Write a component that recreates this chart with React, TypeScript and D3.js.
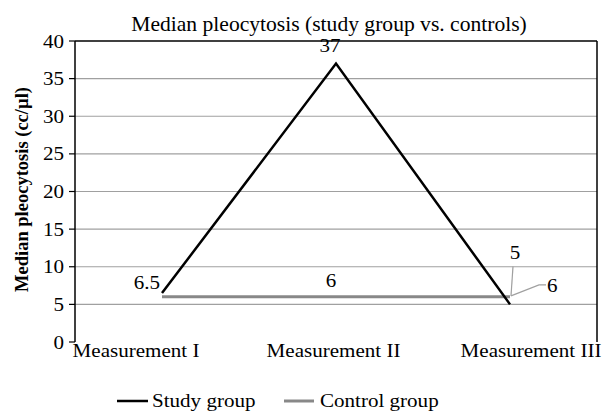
import React from "react";
import * as d3 from "d3";

const categories = ["Measurement I", "Measurement II", "Measurement III"];
const studyGroup = [6.5, 37, 5];
const controlGroup = [6, 6, 6];
const yTicks = [0, 5, 10, 15, 20, 25, 30, 35, 40];
const seriesNames = ["Study group", "Control group"];
const title = "Median pleocytosis (study group vs. controls)";
const yTitle = "Median pleocytosis (cc/µl)";

const W = 603;
const H = 412;
const FONT = "Liberation Serif, Tinos, Times New Roman, serif";
const SX = 1.08;
const FS = 19.5;

function T({ x, y, anchor = "middle", children, size = FS, weight = "normal" }: any) {
  return (
    <text
      transform={`translate(${x},${y}) scale(${SX},1)`}
      textAnchor={anchor}
      style={{ fontFamily: FONT, fontSize: size, fontWeight: weight }}
      fill="#000"
    >
      {children}
    </text>
  );
}

export default function App() {
  const left = 75, right = 597, top = 41, bottom = 342;
  const y = d3.scaleLinear().domain([0, 40]).range([bottom, top]);
  const x = d3.scaleBand().domain(categories).range([left, right]);
  const px = (c: string) => (x(c) as number) + x.bandwidth() / 2;
  const labelX = d3.scalePoint().domain(categories).range([136, 531]);
  const line = d3
    .line<number>()
    .x((_, i) => px(categories[i]))
    .y((d) => y(d));

  const gridColor = "#a0a0a0";
  const controlColor = "#888888";

  const cx = categories.map(px);

  return (
    <svg width={W} height={H} style={{ position: "absolute", left: 0, top: 0 }}>
      <rect width={W} height={H} fill="#fff" />
      <T x={329} y={31} size={20}>{title}</T>
      {yTicks.filter((t) => t > 0 && t < 40).map((t) => (
        <line key={t} x1={left} x2={right} y1={y(t)} y2={y(t)} stroke={gridColor} strokeWidth={1.2} />
      ))}
      <line x1={left} x2={right} y1={y(40)} y2={y(40)} stroke="#000" strokeWidth={1.5} />
      <line x1={right} x2={right} y1={y(40)} y2={y(0)} stroke="#000" strokeWidth={1.5} />
      <line x1={left} x2={left} y1={y(40)} y2={y(0)} stroke="#000" strokeWidth={1.5} />
      {yTicks.map((t) => (
        <g key={t}>
          <line x1={left - 6} x2={left} y1={y(t)} y2={y(t)} stroke="#000" strokeWidth={1.2} />
          <T x={64} y={y(t) + 6.5} anchor="end">{t}</T>
        </g>
      ))}
      <text
        transform={`translate(28,${(top + bottom) / 2 - 2}) rotate(-90)`}
        textAnchor="middle"
        style={{ fontFamily: FONT, fontSize: 18.5, fontWeight: "bold" }}
      >
        {yTitle}
      </text>
      {categories.map((c) => (
        <T key={c} x={labelX(c) as number} y={357}>{c}</T>
      ))}
      <path d={line(controlGroup) || ""} fill="none" stroke={controlColor} strokeWidth={3} />
      <path d={line(studyGroup) || ""} fill="none" stroke="#000" strokeWidth={2.5} />
      <T x={cx[0] - 2} y={y(studyGroup[0]) - 4} anchor="end">{studyGroup[0]}</T>
      <T x={cx[1] - 6} y={y(studyGroup[1]) - 12}>{studyGroup[1]}</T>
      <T x={cx[2] + 5} y={y(studyGroup[2]) - 45}>{studyGroup[2]}</T>
      <line x1={cx[2] + 3} y1={y(studyGroup[2]) - 38} x2={cx[2] + 1} y2={y(controlGroup[2]) - 1} stroke={gridColor} strokeWidth={1.2} />
      <T x={cx[1] - 5} y={y(controlGroup[1]) - 10}>{controlGroup[1]}</T>
      <polyline
        points={`${cx[2] + 1},${y(controlGroup[2]) - 1} ${cx[2] + 29},${y(controlGroup[2]) - 12} ${cx[2] + 36},${y(controlGroup[2]) - 12}`}
        fill="none"
        stroke={gridColor}
        strokeWidth={1.2}
      />
      <T x={cx[2] + 37} y={y(controlGroup[2]) - 5} anchor="start">{controlGroup[2]}</T>
      <line x1={117} x2={148} y1={401} y2={401} stroke="#000" strokeWidth={2.5} />
      <T x={152} y={407} anchor="start">{seriesNames[0]}</T>
      <line x1={284} x2={314} y1={401} y2={401} stroke={controlColor} strokeWidth={3} />
      <T x={320} y={407} anchor="start">{seriesNames[1]}</T>
    </svg>
  );
}
